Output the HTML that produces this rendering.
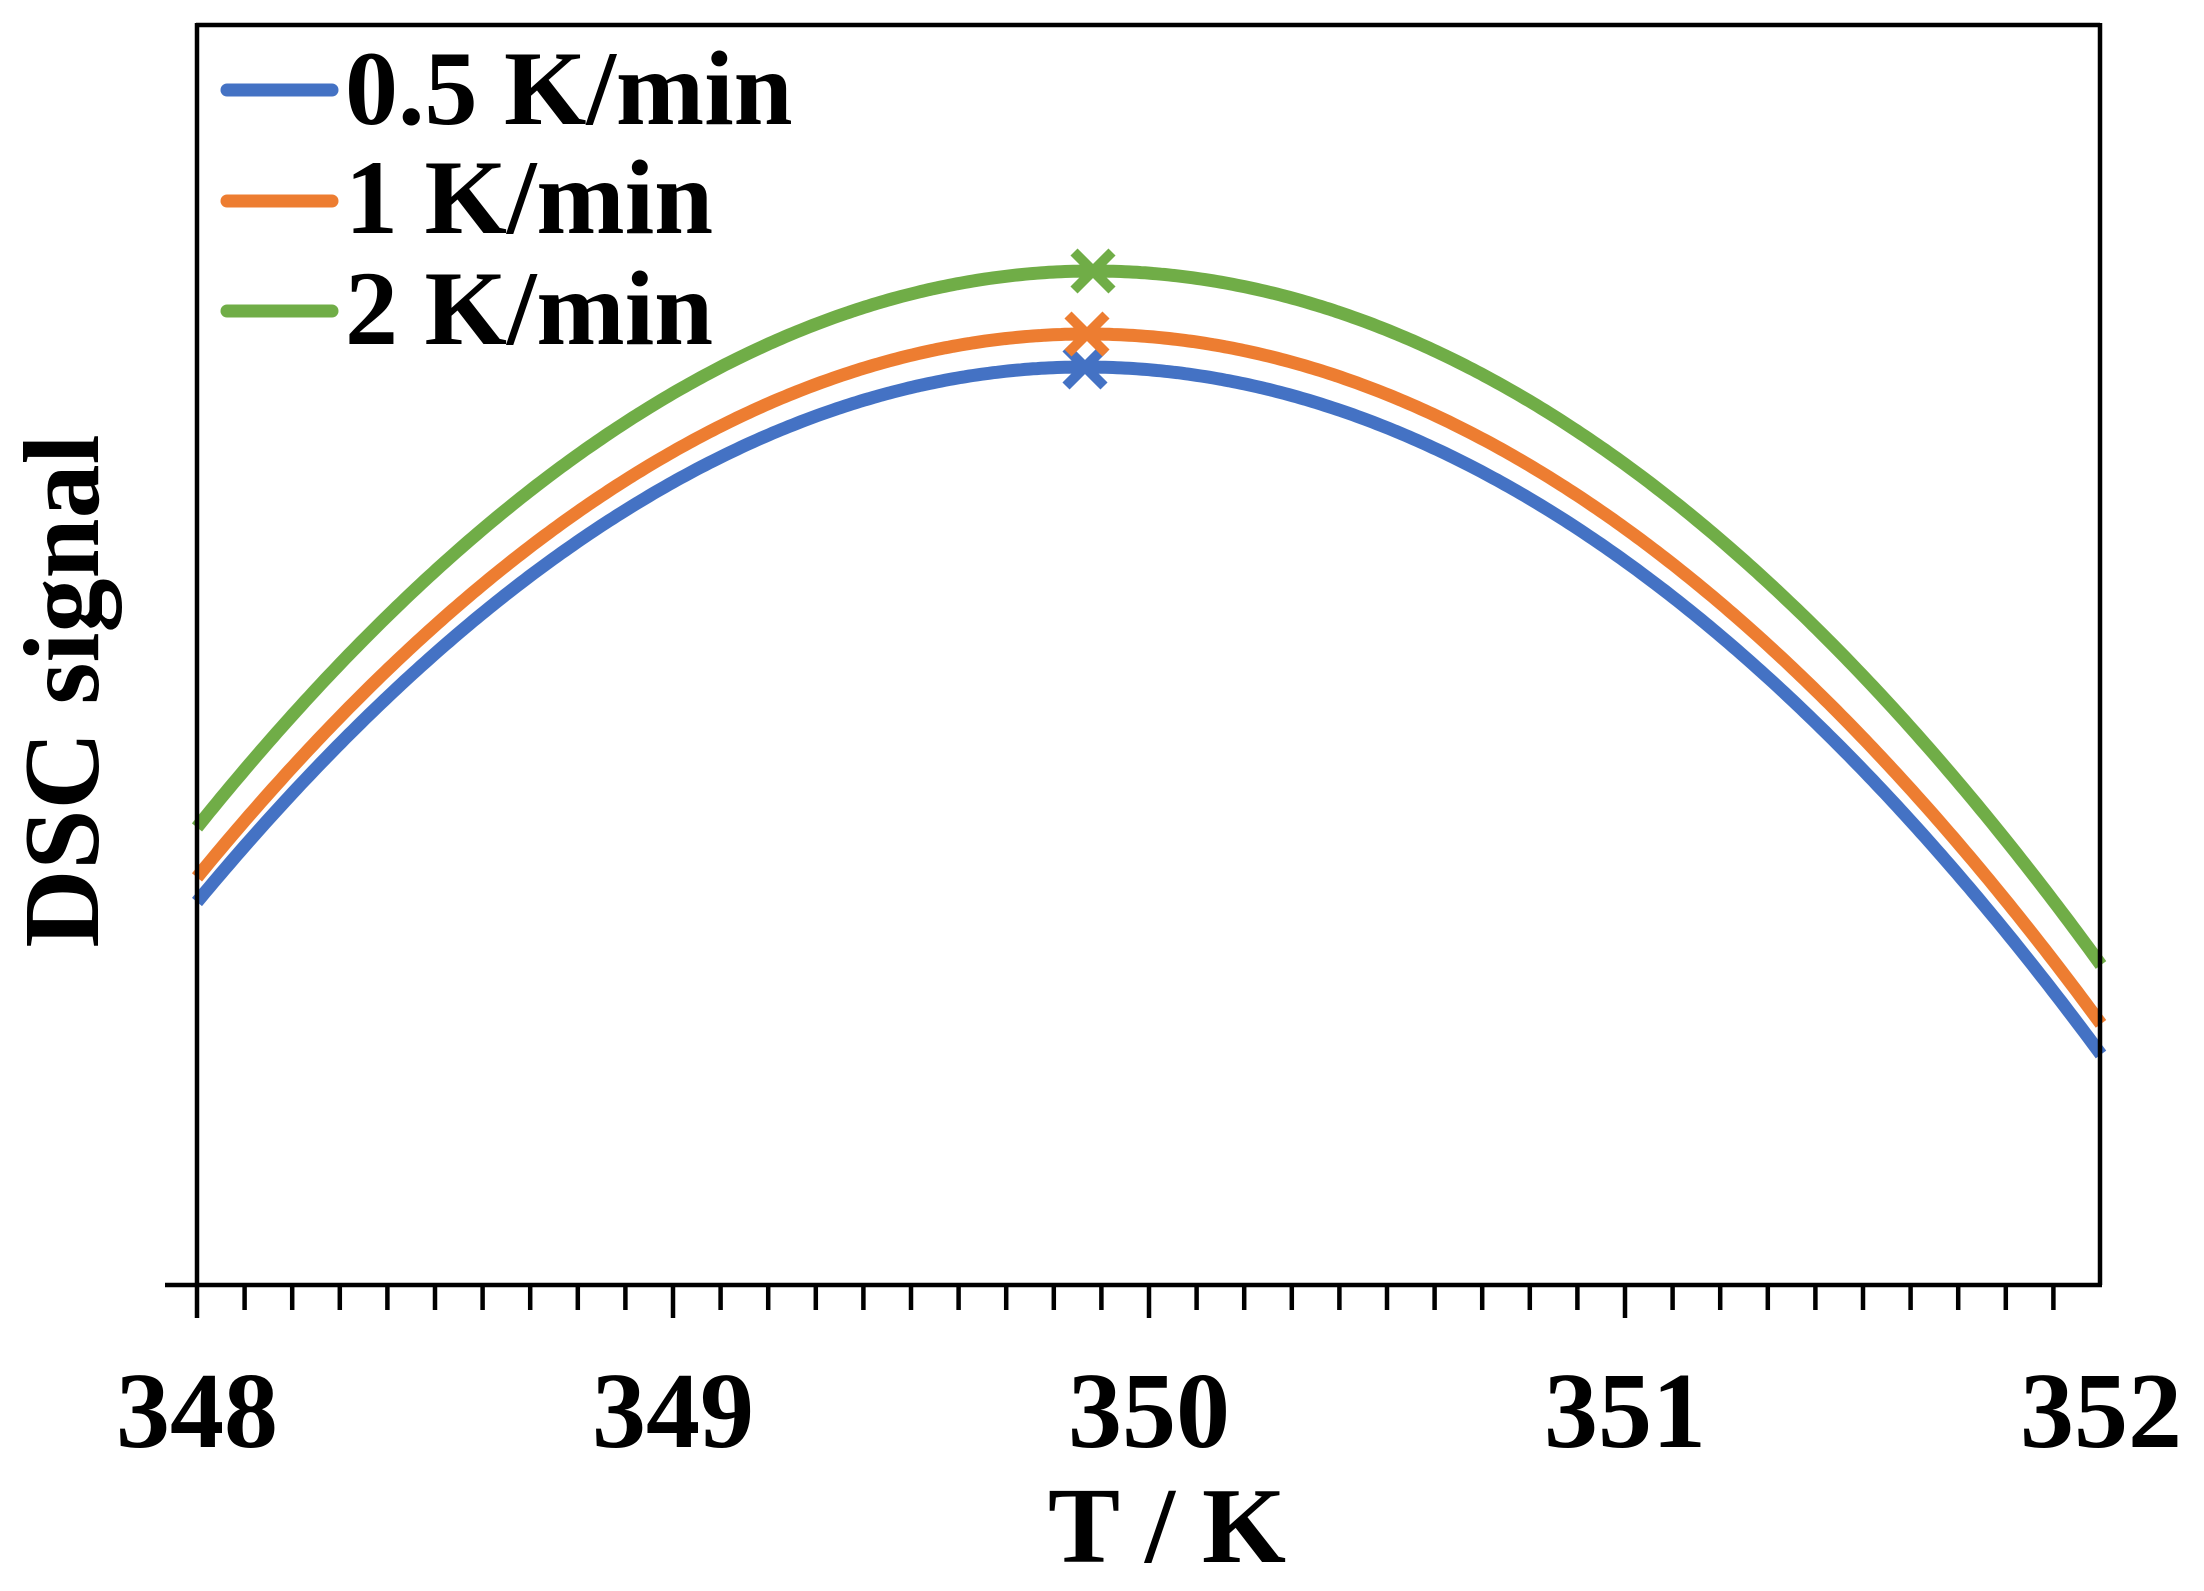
<!DOCTYPE html>
<html><head><meta charset="utf-8"><style>
html,body{margin:0;padding:0;background:#fff;}
svg{display:block;}
text{font-family:"Liberation Serif",serif;font-weight:bold;fill:#000;}
</style></head><body>
<svg id="s" width="2204" height="1591" viewBox="0 0 2204 1591" xmlns="http://www.w3.org/2000/svg">
<rect width="2204" height="1591" fill="#fff"/>
<g id="curves"></g>
<!-- frame -->
<line x1="196" y1="25" x2="2100" y2="25" stroke="#000" stroke-width="4.5"/>
<line x1="2100" y1="23" x2="2100" y2="1285" stroke="#000" stroke-width="4.5"/>
<line x1="197" y1="23" x2="197" y2="1318" stroke="#000" stroke-width="4.5"/>
<line x1="165" y1="1285" x2="2102" y2="1285" stroke="#000" stroke-width="4.5"/>
<g id="ticks" stroke="#000" stroke-width="4.5"></g>
<g font-size="108" text-anchor="middle">
<text x="197" y="1447">348</text>
<text x="673" y="1447">349</text>
<text x="1149" y="1447">350</text>
<text x="1625" y="1447">351</text>
<text x="2101" y="1447">352</text>
<text x="1167" y="1562">T / K</text>
<text transform="translate(98,691) rotate(-90)" x="0" y="0">DSC signal</text>
</g>
<g stroke-width="13" stroke-linecap="round">
<line x1="227" y1="90" x2="332" y2="90" stroke="#4472C4"/>
<line x1="227" y1="201" x2="332" y2="201" stroke="#ED7D31"/>
<line x1="227" y1="311" x2="332" y2="311" stroke="#70AD47"/>
</g>
<g font-size="106">
<text x="345" y="124">0.5 K/min</text>
<text x="345" y="233">1 K/min</text>
<text x="345" y="344">2 K/min</text>
</g>
</svg>
<script>
var ns="http://www.w3.org/2000/svg";
var tk=document.getElementById("ticks");
for(var i=1;i<40;i++){var x=197+i*47.6;var l=document.createElementNS(ns,"line");
l.setAttribute("x1",x);l.setAttribute("x2",x);l.setAttribute("y1",1285);l.setAttribute("y2",(i%10==0)?1318:1310);tk.appendChild(l);}
var series=[
{c:"#4472C4",xp:1085,yp:367,al:6.785e-4,ar:6.66e-4},
{c:"#ED7D31",xp:1087,yp:334,al:6.86e-4,ar:6.71e-4},
{c:"#70AD47",xp:1093,yp:271,al:6.93e-4,ar:6.83e-4}];
var g=document.getElementById("curves");
series.forEach(function(s){
var d="";for(var x=197;x<=2101;x+=4){var dx=x-s.xp;var a=dx<0?s.al:s.ar;var y=s.yp+a*dx*dx;d+=(d?"L":"M")+x+" "+y.toFixed(1);}
var p=document.createElementNS(ns,"path");p.setAttribute("d",d);p.setAttribute("fill","none");p.setAttribute("stroke",s.c);p.setAttribute("stroke-width","13");g.appendChild(p);
var m=document.createElementNS(ns,"path");var r=19;
m.setAttribute("d","M"+(s.xp-r)+" "+(s.yp-r)+"L"+(s.xp+r)+" "+(s.yp+r)+"M"+(s.xp-r)+" "+(s.yp+r)+"L"+(s.xp+r)+" "+(s.yp-r));
m.setAttribute("stroke",s.c);m.setAttribute("stroke-width","10");g.appendChild(m);
});
</script>
</body></html>
